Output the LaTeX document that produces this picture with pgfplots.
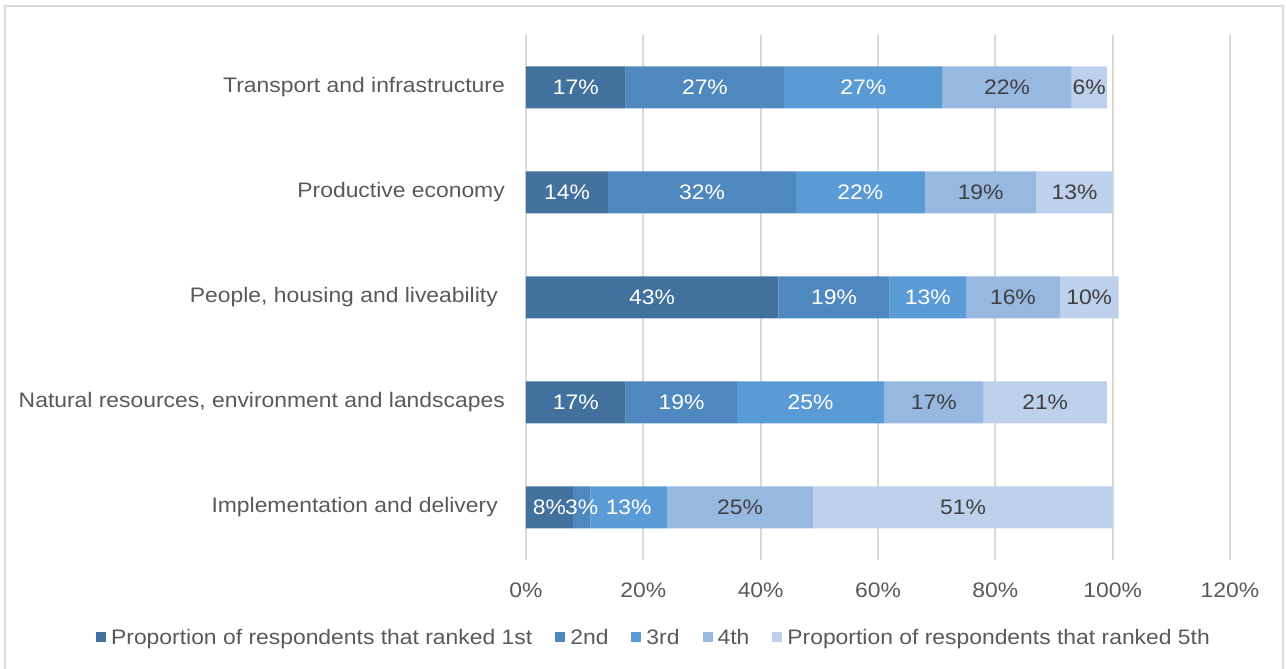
\documentclass[border=0pt]{standalone}
\usepackage{pgfplots}
\pgfplotsset{compat=1.18}
\usepackage{fontspec}
\setmainfont[FakeStretch=1.09]{Liberation Sans}
\definecolor{c1}{HTML}{41719C}
\definecolor{c2}{HTML}{4E88BE}
\definecolor{c3}{HTML}{5B9BD5}
\definecolor{c4}{HTML}{97B8E0}
\definecolor{c5}{HTML}{BDD1EC}
\definecolor{gridc}{HTML}{D9D9D9}
\definecolor{txt}{HTML}{595959}
\definecolor{dtxt}{HTML}{404040}
\begin{document}
\begin{tikzpicture}[x=1pt,y=1pt]
\useasboundingbox (0,0) rectangle (1286,669);
\draw[gridc, line width=2pt] (5,0) -- (5,663) -- (1283,663) -- (1283,0);
\begin{axis}[
  at={(526pt,109pt)}, anchor=south west,
  scale only axis, width=704pt, height=525pt,
  xbar stacked, bar width=42pt,
  /pgf/number format/assume math mode=true,
  xmin=0, xmax=120, ymin=-0.5, ymax=4.5,
  xtick={0,20,40,60,80,100,120},
  xticklabel={\pgfmathprintnumber{\tick}\%},
  xticklabel style={anchor=center, yshift=-30pt, text=txt, font=\fontsize{21}{25}\selectfont},
  ytick={0,1,2,3,4},
  yticklabels={Implementation and delivery\rule{7pt}{0pt}, {Natural resources, environment and landscapes}, {People, housing and liveability\rule{7pt}{0pt}}, Productive economy, Transport and infrastructure},
  yticklabel style={anchor=east, inner sep=0pt, xshift=-21pt, text=txt, font=\fontsize{21}{25}\selectfont},
  axis line style={draw=none},
  major tick length=0pt,
  xmajorgrids, grid style={gridc, line width=1.8pt},
  point meta=rawx,
  nodes near coords={\pgfmathprintnumber{\pgfplotspointmeta}\%},
  every node near coord/.append style={anchor=center, inner sep=0pt, font=\fontsize{21}{25}\selectfont},
  legend style={at={(0.1804,-0.1476)}, anchor=center, draw=none, fill=none, legend columns=-1, font=\fontsize{21}{25}\selectfont, text=txt,
    nodes={inner sep=0pt},
    /tikz/every odd column/.append style={column sep=5pt},
    /tikz/every even column/.append style={column sep=23pt}},
  legend image code/.code={\fill[#1] (0pt,-5pt) rectangle (10pt,5pt);},
]
\addplot[fill=c1, draw=none, every node near coord/.append style={text=white}] coordinates {(8,0) (17,1) (43,2) (14,3) (17,4)};
\addplot[fill=c2, draw=none, every node near coord/.append style={text=white}] coordinates {(3,0) (19,1) (19,2) (32,3) (27,4)};
\addplot[fill=c3, draw=none, every node near coord/.append style={text=white}] coordinates {(13,0) (25,1) (13,2) (22,3) (27,4)};
\addplot[fill=c4, draw=none, every node near coord/.append style={text=dtxt}] coordinates {(25,0) (17,1) (16,2) (19,3) (22,4)};
\addplot[fill=c5, draw=none, every node near coord/.append style={text=dtxt}] coordinates {(51,0) (21,1) (10,2) (13,3) (6,4)};
\legend{Proportion of respondents that ranked 1st, 2nd, 3rd, 4th, Proportion of respondents that ranked 5th}
\end{axis}
\end{tikzpicture}
\end{document}
